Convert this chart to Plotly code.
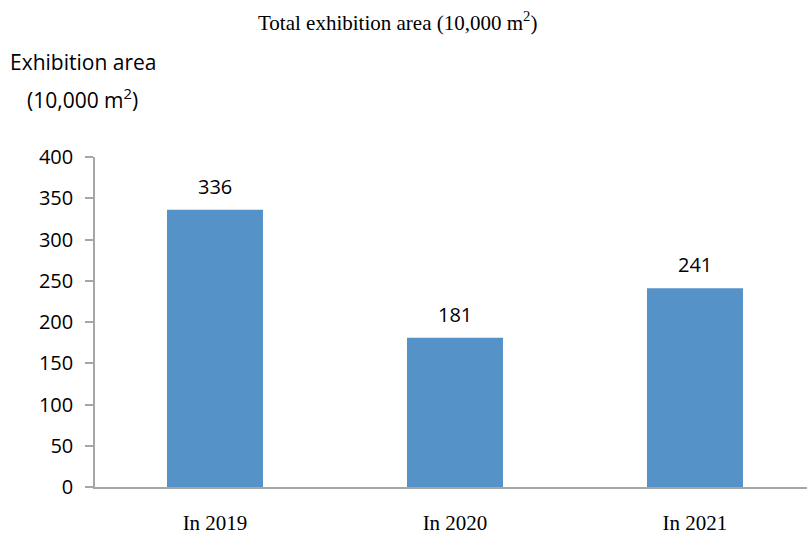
import plotly.graph_objects as go

categories = ["In 2019", "In 2020", "In 2021"]
values = [336, 181, 241]
y_ticks = [0, 50, 100, 150, 200, 250, 300, 350, 400]

bar_color = "#5592C8"
axis_color = "#A6A6A6"
sans = "Open Sans, Lato, sans-serif"
serif = "Liberation Serif, Times New Roman, serif"

L, R, T, B = 95, 0, 157, 51
W, H = 807, 538
PW, PH = W - L - R, H - T - B

def px_x(x):
    return (x - L) / PW

def px_y(y):
    return (H - B - y) / PH

fig = go.Figure()
fig.add_trace(go.Bar(
    x=categories, y=values, width=0.4,
    marker=dict(color=bar_color, line=dict(width=0)),
    hoverinfo="skip",
))

anns = []
for c, v in zip(categories, values):
    anns.append(dict(x=c, y=v, text=str(v), showarrow=False,
                     yanchor="bottom", yshift=8,
                     font=dict(family=sans, size=20, color="#000")))

anns.append(dict(xref="paper", yref="paper", x=px_x(397), y=px_y(22),
                 text="Total exhibition area (10,000 m<sup>2</sup>)",
                 showarrow=False, xanchor="center", yanchor="middle",
                 font=dict(family=serif, size=21, color="#000")))
anns.append(dict(xref="paper", yref="paper", x=px_x(8), y=px_y(62),
                 text="Exhibition area", showarrow=False,
                 xanchor="left", yanchor="middle",
                 font=dict(family=sans, size=21, color="#000")))
anns.append(dict(xref="paper", yref="paper", x=px_x(25), y=px_y(98),
                 text="(10,000 m<sup>2</sup>)", showarrow=False,
                 xanchor="left", yanchor="middle",
                 font=dict(family=sans, size=21, color="#000")))

fig.update_layout(
    width=W, height=H,
    margin=dict(l=L, r=R, t=T, b=B, autoexpand=False),
    paper_bgcolor="white", plot_bgcolor="white",
    showlegend=False,
    annotations=anns,
    xaxis=dict(
        range=[-0.5, 2.4667], showgrid=False, zeroline=False, automargin=False,
        showline=True, linecolor=axis_color, linewidth=1.5,
        ticks="", tickfont=dict(family=serif, size=21, color="#000"),
        ticklabelstandoff=16,
    ),
    yaxis=dict(
        range=[0, 400], tickvals=y_ticks, showgrid=False, zeroline=False, automargin=False,
        showline=True, linecolor=axis_color, linewidth=1.5,
        ticks="outside", ticklen=8, tickcolor=axis_color, tickwidth=1.5,
        tickfont=dict(family=sans, size=20, color="#000"),
        ticklabelstandoff=8,
    ),
)

fig.write_html("out.html", config={"displayModeBar": False},
               post_script="document.body.style.margin='0';document.body.style.overflow='hidden';")
